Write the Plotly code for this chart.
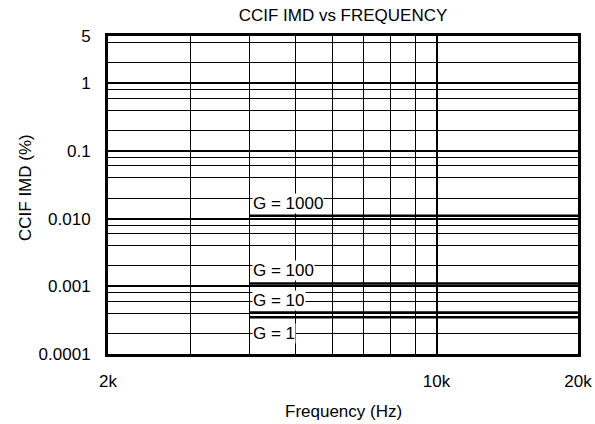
import plotly.graph_objects as go
import math

# ---- data ----
frequency_hz = [4000, 20000]
gain_labels = ["G = 1000", "G = 100", "G = 10", "G = 1"]
imd_percent = [0.011, 0.0011, 0.00041, 0.00035]

x_tick_vals = [2000, 10000, 20000]
x_tick_text = ["2k", "10k", "20k"]
x_minor_vals = [3000, 4000, 5000, 6000, 7000, 8000, 9000]

y_tick_vals = [0.0001, 0.001, 0.01, 0.1, 1, 5]
y_tick_text = ["0.0001", "0.001", "0.010", "0.1", "1", "5"]
y_minor_vals = [m * 10 ** d for d in range(-4, 0) for m in (2, 4, 6, 8)] + [2, 4]

# label anchor values (where the text sits)
label_y = [0.0168, 0.0017, 0.000615, 0.000203]

FONT = "Liberation Sans, Arial, sans-serif"
FS = 17

fig = go.Figure()
for name, v in zip(gain_labels, imd_percent):
    fig.add_trace(go.Scatter(
        x=frequency_hz, y=[v, v], mode="lines", name=name,
        line=dict(color="black", width=2.5), showlegend=False, hoverinfo="skip"))

annotations = []
for name, ly in zip(gain_labels, label_y):
    annotations.append(dict(
        x=math.log10(frequency_hz[0]), y=math.log10(ly), xref="x", yref="y",
        text=name, showarrow=False, xanchor="left", yanchor="middle",
        bgcolor="white", borderpad=0, xshift=3,
        font=dict(family=FONT, size=FS, color="black")))

annotations.append(dict(
    x=0.5, y=0, xref="paper", yref="paper", text="Frequency (Hz)", showarrow=False,
    xanchor="center", yanchor="middle", yshift=-57,
    font=dict(family=FONT, size=FS, color="black")))
annotations.append(dict(
    x=0, y=0.5, xref="paper", yref="paper", text="CCIF IMD (%)", showarrow=False,
    xanchor="center", yanchor="middle", xshift=-83, yshift=7, textangle=-90,
    font=dict(family=FONT, size=FS, color="black")))

fig.update_layout(
    width=595, height=424,
    margin=dict(l=108, r=17, t=36, b=70, autoexpand=False),
    paper_bgcolor="white", plot_bgcolor="white",
    font=dict(family=FONT, size=FS, color="black"),
    title=dict(text="CCIF IMD vs FREQUENCY", x=343 / 595, xanchor="center",
               y=1 - 15 / 424, yanchor="middle", yref="container", automargin=False,
               font=dict(family=FONT, size=FS, color="black")),
    annotations=annotations,
)

fig.update_xaxes(
    type="log", range=[math.log10(2000), math.log10(20000)],
    tickvals=x_tick_vals, ticktext=x_tick_text, ticks="",
    showgrid=True, gridcolor="black", gridwidth=2,
    minor=dict(tickvals=x_minor_vals, showgrid=True, gridcolor="black", gridwidth=1, ticks=""),
    showline=True, linecolor="black", linewidth=3, mirror=True,
    ticklabelstandoff=10, zeroline=False, automargin=False,
)
fig.update_yaxes(
    type="log", range=[-4, math.log10(5)],
    tickvals=y_tick_vals, ticktext=y_tick_text, ticks="",
    showgrid=True, gridcolor="black", gridwidth=2,
    minor=dict(tickvals=y_minor_vals, showgrid=True, gridcolor="black", gridwidth=1, ticks=""),
    showline=True, linecolor="black", linewidth=3, mirror=True,
    ticklabelstandoff=11, zeroline=False, automargin=False,
)

fig.write_html(
    "out.html",
    config={"displayModeBar": False},
    post_script="document.body.style.margin='0px';document.body.style.overflow='hidden';",
)
